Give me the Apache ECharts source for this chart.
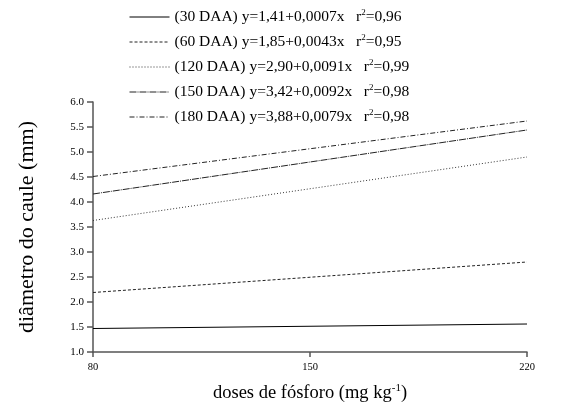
<!DOCTYPE html>
<html><head><meta charset="utf-8">
<script src="https://cdn.jsdelivr.net/npm/echarts@6/dist/echarts.min.js"></script>
<style>html,body{margin:0;padding:0;background:#fff}#c{width:562px;height:412px}</style>
</head><body><div id="c"></div>
<script>
const doses = [80, 220];
const s30 = [1.47, 1.56];
const s60 = [2.19, 2.80];
const s120 = [3.63, 4.90];
const s150 = [4.16, 5.44];
const s180 = [4.51, 5.62];
const seriesNames = ['30 DAA', '60 DAA', '120 DAA', '150 DAA', '180 DAA'];
const equations = ['y=1,41+0,0007x', 'y=1,85+0,0043x', 'y=2,90+0,0091x', 'y=3,42+0,0092x', 'y=3,88+0,0079x'];
const r2 = ['0,96', '0,95', '0,99', '0,98', '0,98'];
const xTicks = [80, 150, 220];
const yTicks = [1.0, 1.5, 2.0, 2.5, 3.0, 3.5, 4.0, 4.5, 5.0, 5.5, 6.0];

const allData = [s30, s60, s120, s150, s180];
const dashes = ['solid', [3, 2], [1, 2], [7, 1, 1, 1], [5, 2, 1, 2]];
const colors = ['#000', '#222', '#333', '#222', '#222'];
const serif = 'Liberation Serif';

const chart = echarts.init(document.getElementById('c'));
chart.setOption({
  animation: false,
  grid: { left: 93, right: 35, top: 102, bottom: 60 },
  xAxis: {
    type: 'value', min: 80, max: 220, interval: 70,
    name: 'doses de fósforo (mg kg{sup|-1})',
    nameLocation: 'middle', nameGap: 31,
    nameTextStyle: { fontFamily: serif, fontSize: 18.5, color: '#000',
      rich: { sup: { fontFamily: serif, fontSize: 11, color: '#000', verticalAlign: 'top', padding: [0, 0, 10, 0] } } },
    axisLine: { lineStyle: { color: '#555', width: 1.5 } },
    axisTick: { length: 5, lineStyle: { color: '#555', width: 1.5 } },
    axisLabel: { fontFamily: serif, fontSize: 10.5, color: '#000', margin: 10 },
    splitLine: { show: false }
  },
  yAxis: {
    type: 'value', min: 1.0, max: 6.0, interval: 0.5,
    name: 'diâmetro do caule (mm)',
    nameLocation: 'middle', nameGap: 55,
    nameTextStyle: { fontFamily: serif, fontSize: 22, color: '#000' },
    axisLine: { show: true, lineStyle: { color: '#555', width: 1.5 } },
    axisTick: { show: true, length: 6, lineStyle: { color: '#555', width: 1.5 } },
    axisLabel: { fontFamily: serif, fontSize: 11, color: '#000', margin: 9,
      formatter: v => v.toFixed(1) },
    splitLine: { show: false }
  },
  legend: {
    orient: 'vertical', left: 124, top: 3, itemWidth: 40, itemHeight: 14, itemGap: 8,
    data: seriesNames,
    itemStyle: { opacity: 0 },
    lineStyle: { width: 1 },
    textStyle: { fontFamily: serif, fontSize: 15.5, color: '#000',
      rich: { t: { fontFamily: serif, fontSize: 15.5, color: '#000' },
              sup: { fontFamily: serif, fontSize: 9, color: '#000', verticalAlign: 'top', padding: [0, 0, 9, 0] } } },
    formatter: name => {
      const i = seriesNames.indexOf(name);
      return '{t|(' + name + ') ' + equations[i] + '   r}{sup|2}{t|=' + r2[i] + '}';
    }
  },
  series: allData.map((d, i) => ({
    name: seriesNames[i],
    type: 'line',
    symbol: 'none',
    data: doses.map((x, j) => [x, d[j]]),
    lineStyle: { color: colors[i], width: 1, type: dashes[i] },
    itemStyle: { color: colors[i] }
  }))
});
</script></body></html>
